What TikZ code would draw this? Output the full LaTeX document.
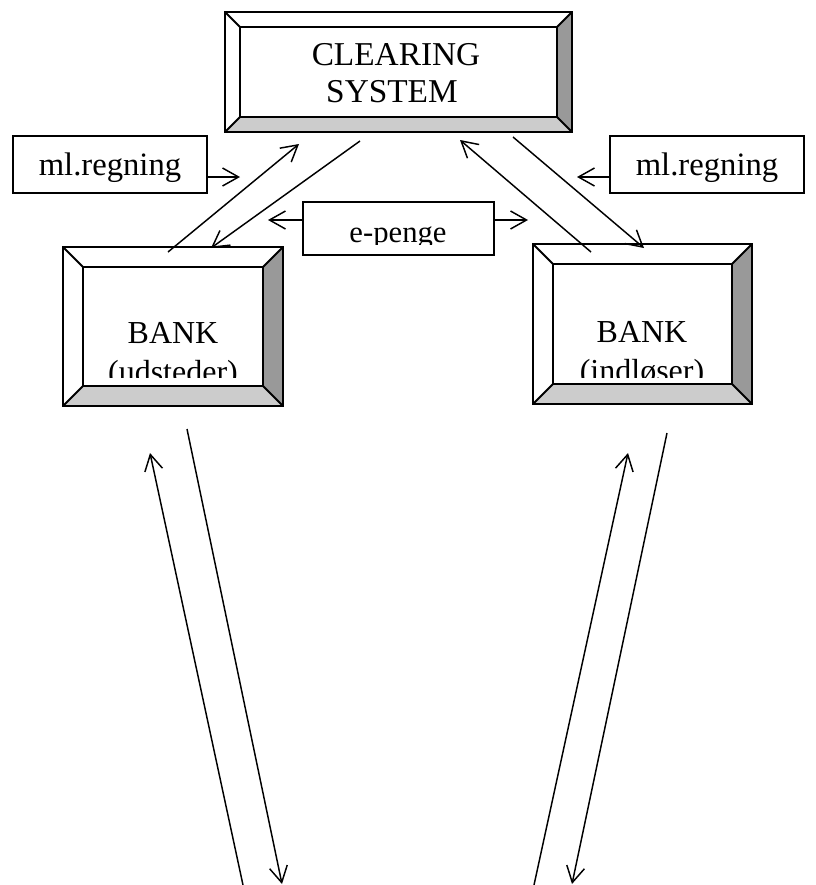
\documentclass[tikz,border=0pt]{standalone}
\usepackage{fontspec}
\setmainfont{Liberation Serif}
\usetikzlibrary{arrows.meta,fit}
\definecolor{bevdark}{gray}{0.6}
\definecolor{bevlight}{gray}{0.8}
\tikzset{
  lbl/.style={inner sep=0pt, anchor=base, font=\fontsize{24}{28}\selectfont},
  plainbox/.style={draw, line width=1.5pt, inner sep=0pt},
  edgeline/.style={line width=1.5pt},
  arr/.style={line width=1.1pt, -{Straight Barb[length=12pt,width=13.5pt]}},
}
\newcommand\bevelbox[6]{%
  \fill[white] (#2,#3) rectangle (#4,#5);
  \fill[bevdark] (#4,#3) -- (#4,#5) -- ({#4-#6},{#5-#6}) -- ({#4-#6},{#3+#6}) -- cycle;
  \fill[bevlight] (#2,#5) -- (#4,#5) -- ({#4-#6},{#5-#6}) -- ({#2+#6},{#5-#6}) -- cycle;
  \draw[edgeline] ({#2+#6},{#3+#6}) rectangle ({#4-#6},{#5-#6});
  \draw[edgeline] (#2,#3) -- ({#2+#6},{#3+#6}) (#4,#3) -- ({#4-#6},{#3+#6})
                  (#2,#5) -- ({#2+#6},{#5-#6}) (#4,#5) -- ({#4-#6},{#5-#6});
  \node[plainbox, fit={(#2,#3) (#4,#5)}] (#1) {};
}
\begin{document}
\begin{tikzpicture}[x=0.75pt,y=-0.75pt]
\useasboundingbox[fill=white] (0,0) rectangle (816,885);

% beveled boxes
\bevelbox{clr}{225}{12}{572}{132}{15}
\bevelbox{bankL}{63}{247}{283}{406}{20}
\bevelbox{bankR}{533}{244}{752}{404}{20}

\node[lbl, font=\fontsize{25}{28}\selectfont] (clrA) at (396,65) {CLEARING};
\node[lbl, font=\fontsize{25}{28}\selectfont] (clrB) at (392,102) {SYSTEM};

\begin{scope}
  \clip (84,267) rectangle (263,377);
  \node[lbl] (bankLa) at (173,343) {BANK};
  \node[lbl] (bankLb) at (173,382) {(udsteder)};
\end{scope}
\begin{scope}
  \clip (553,264) rectangle (732,377);
  \node[lbl] (bankRa) at (642,342) {BANK};
  \node[lbl] (bankRb) at (642,381) {(indløser)};
\end{scope}

% plain boxes
\node[plainbox, fit={(13,136) (207,193)}] (mlL) {};
\node[lbl, font=\fontsize{24.5}{28}\selectfont] (mlLt) at (110,175) {ml.regning};
\node[plainbox, fit={(610,136) (804,193)}] (mlR) {};
\node[lbl, font=\fontsize{24.5}{28}\selectfont] (mlRt) at (707,175) {ml.regning};
\node[plainbox, fill=white, fit={(303,202) (494,255)}] (ep) {};
\begin{scope}
  \clip (303,202) rectangle (494,244);
  \node[lbl, font=\fontsize{23}{28}\selectfont] (ept) at (398,242) {e-penge};
\end{scope}

% connector end points
\coordinate (mlLo) at (207,177);  \coordinate (mlLi) at (240,177);
\coordinate (mlRo) at (610,177);  \coordinate (mlRi) at (577,177);
\coordinate (epLo) at (303,220);  \coordinate (epLi) at (268,220);
\coordinate (epRo) at (494,220);  \coordinate (epRi) at (528,220);

\coordinate (l1s) at (168,252);   \coordinate (l1e) at (299,144);
\coordinate (l2s) at (360,141);   \coordinate (l2e) at (211,248);
\coordinate (r1s) at (591,252);   \coordinate (r1e) at (460,140);
\coordinate (r2s) at (513,137);   \coordinate (r2e) at (644,248);

\coordinate (bl1s) at (243,885);  \coordinate (bl1e) at (150,453);
\coordinate (bl2s) at (187,429);  \coordinate (bl2e) at (282,884);
\coordinate (br1s) at (534,885);  \coordinate (br1e) at (628,453);
\coordinate (br2s) at (667,433);  \coordinate (br2e) at (572,884);

% connectors
\draw[arr] (mlLo) -- (mlLi);
\draw[arr] (mlRo) -- (mlRi);
\draw[arr] (epLo) -- (epLi);
\draw[arr] (epRo) -- (epRi);

\draw[arr] (l1s) -- (l1e);
\draw[arr] (l2s) -- (l2e);
\draw[arr] (r1s) -- (r1e);
\draw[arr] (r2s) -- (r2e);

\draw[arr] (bl1s) -- (bl1e);
\draw[arr] (bl2s) -- (bl2e);
\draw[arr] (br1s) -- (br1e);
\draw[arr] (br2s) -- (br2e);
\end{tikzpicture}
\end{document}
